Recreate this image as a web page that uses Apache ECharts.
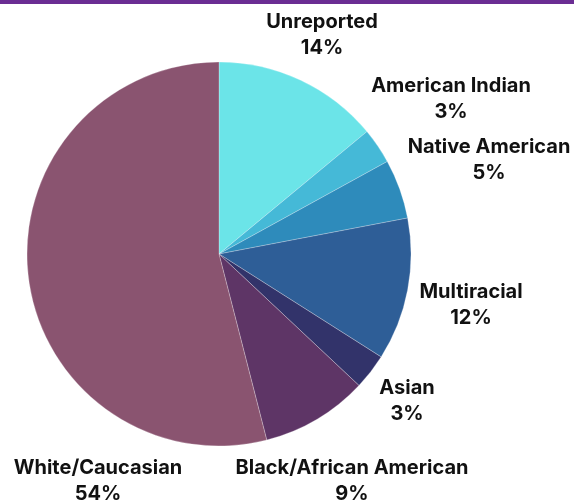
<!DOCTYPE html>
<html>
<head>
<meta charset="utf-8">
<script src="https://cdn.jsdelivr.net/npm/echarts@6/dist/echarts.min.js"></script>
<style>
html, body { margin: 0; padding: 0; background: #fff; }
#main { width: 574px; height: 503px; }
</style>
</head>
<body>
<div id="main"></div>
<script>
var categories = ['Unreported', 'American Indian', 'Native American', 'Multiracial', 'Asian', 'Black/African American', 'White/Caucasian'];
var shares = [14, 3, 5, 12, 3, 9, 54];
var sliceColors = ['#6be4e8', '#45b9d7', '#2e8bbb', '#2e5e97', '#32336a', '#5e3566', '#8a5470'];
// label centres (labels are hand placed there)
var labelSpots = [[322, 35], [451, 99], [489, 160], [471, 305], [407, 401], [352, 481], [98, 481]];

var myChart = echarts.init(document.getElementById('main'));

var option = {
    animation: false,
    graphic: [{
        type: 'rect',
        shape: { x: 0, y: 0, width: 574, height: 4 },
        style: { fill: '#6b2d93' }
    }],
    series: [{
        type: 'pie',
        center: [219, 254],
        radius: 192,
        startAngle: 90,
        clockwise: true,
        avoidLabelOverlap: false,
        minShowLabelAngle: 0,
        itemStyle: { borderColor: 'rgba(255,255,255,0.5)', borderWidth: 0.5 },
        label: {
            show: true,
            position: 'outside',
            formatter: '{b}\n{c}%',
            fontFamily: 'Inter',
            fontWeight: 'bold',
            fontSize: 20,
            lineHeight: 26,
            color: '#111',
            align: 'center',
            overflow: 'none'
        },
        labelLine: { show: false },
        labelLayout: function (params) {
            var p = labelSpots[params.dataIndex];
            return { x: p[0], y: p[1], align: 'center', verticalAlign: 'middle', hideOverlap: false };
        },
        emphasis: { disabled: true },
        data: categories.map(function (name, i) {
            return { name: name, value: shares[i], itemStyle: { color: sliceColors[i] } };
        })
    }]
};
myChart.setOption(option);
</script>
</body>
</html>
